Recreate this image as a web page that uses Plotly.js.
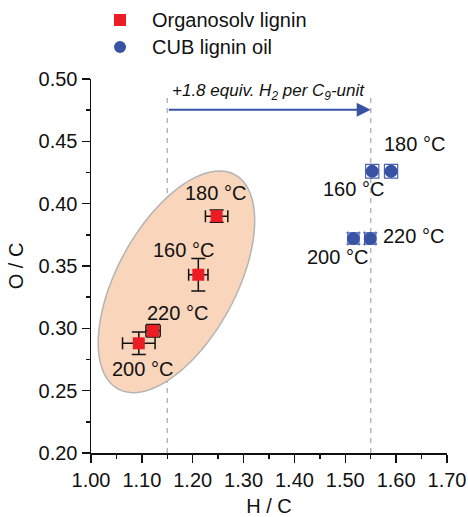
<!DOCTYPE html>
<html>
<head>
<meta charset="utf-8">
<script src="https://cdn.plot.ly/plotly-3.0.1.min.js"></script>
<style>html,body{margin:0;padding:0;background:#fff}#chart{width:468px;height:517px}</style>
</head>
<body>
<div id="chart"></div>
<script>
// ---- data ----
const temperatures = ["160 °C", "180 °C", "200 °C", "220 °C"];
const organosolvHC = [1.211, 1.247, 1.094, 1.122];
const organosolvOC = [0.343, 0.390, 0.288, 0.298];
const organosolvHCerr = [0.019, 0.022, 0.032, 0.014];
const organosolvOCerr = [0.013, 0.005, 0.009, 0.005];
const cubHC = [1.553, 1.590, 1.516, 1.549];
const cubOC = [0.426, 0.426, 0.372, 0.372];
const cubHCerr = [0.013, 0.013, 0.011, 0.011];
const cubOCerr = [0.0055, 0.0055, 0.0045, 0.0045];
const seriesNames = ["Organosolv lignin", "CUB lignin oil"];
const hcStart = 1.15, hcEnd = 1.55;
const arrowText = "<i>+1.8 equiv. H<sub>2</sub> per C<sub>9</sub>-unit</i>";

// label offsets (px) relative to each point
const orgLabelShift = [[-15, 25], [-1, 23], [4, -26], [24, 18]];
const cubLabelShift = [[-19, -18], [23, 27], [-16, -18], [43, 3]];

const FONT = "Arial, 'Liberation Sans', sans-serif";
const RED = "#ec1c24", BLUE = "#3953a4";

const traces = [
  {
    x: organosolvHC, y: organosolvOC, name: seriesNames[0], type: "scatter", mode: "markers",
    marker: {symbol: "square", size: 12, color: RED},
    error_x: {type: "data", array: organosolvHCerr, visible: true, color: "#111", thickness: 1.5, width: 6},
    error_y: {type: "data", array: organosolvOCerr, visible: true, color: "#111", thickness: 1.5, width: 7}
  },
  {
    x: cubHC, y: cubOC, name: seriesNames[1], type: "scatter", mode: "markers",
    marker: {symbol: "circle", size: 13, color: BLUE},
    error_x: {type: "data", array: cubHCerr, visible: true, color: "#4a64b4", thickness: 1.2, width: 7},
    error_y: {type: "data", array: cubOCerr, visible: true, color: "#4a64b4", thickness: 1.2, width: 7}
  }
];

// ellipse path (data coords) from center and conjugate semi-axis vectors
const ell = {cx: 1.168, cy: 0.3373, ux: 0.1145, uy: 0.0860, vx: -0.1028, vy: 0.0225};
let path = "";
for (let i = 0; i <= 120; i++) {
  const t = 2 * Math.PI * i / 120;
  const px = ell.cx + ell.ux * Math.cos(t) + ell.vx * Math.sin(t);
  const py = ell.cy + ell.uy * Math.cos(t) + ell.vy * Math.sin(t);
  path += (i === 0 ? "M" : "L") + px.toFixed(5) + "," + py.toFixed(5);
}
path += "Z";

const shapes = [
  {type: "line", xref: "x", yref: "y", x0: hcStart, x1: hcStart, y0: 0.2, y1: 0.488, layer: "below",
   line: {color: "#b5b5b5", width: 1.5, dash: "5px,5px"}},
  {type: "line", xref: "x", yref: "y", x0: hcEnd, x1: hcEnd, y0: 0.2, y1: 0.488, layer: "below",
   line: {color: "#b5b5b5", width: 1.5, dash: "5px,5px"}},
  {type: "path", xref: "x", yref: "y", path: path, layer: "below",
   fillcolor: "#f9d5bb", line: {color: "#b4b4b4", width: 1.5}},
  // legend symbols
  {type: "rect", xref: "paper", yref: "paper", xsizemode: "pixel", ysizemode: "pixel",
   xanchor: 0.0815, yanchor: 1.1578, x0: -6, x1: 6, y0: -6, y1: 6,
   fillcolor: RED, line: {width: 0}},
  {type: "circle", xref: "paper", yref: "paper", xsizemode: "pixel", ysizemode: "pixel",
   xanchor: 0.0815, yanchor: 1.0856, x0: -6, x1: 6, y0: -6, y1: 6,
   fillcolor: BLUE, line: {width: 0}}
];

const annotations = [];
temperatures.forEach((t, i) => {
  annotations.push({x: organosolvHC[i], y: organosolvOC[i], text: t, showarrow: false,
    xshift: orgLabelShift[i][0], yshift: orgLabelShift[i][1], font: {family: FONT, size: 20, color: "#111"}});
  annotations.push({x: cubHC[i], y: cubOC[i], text: t, showarrow: false,
    xshift: cubLabelShift[i][0], yshift: cubLabelShift[i][1], font: {family: FONT, size: 20, color: "#111"}});
});
annotations.push({x: hcEnd, y: 0.4753, ax: hcStart, ay: 0.4753, axref: "x", ayref: "y", xref: "x", yref: "y",
  text: "", showarrow: true, arrowhead: 2, arrowsize: 1.4, arrowwidth: 2, arrowcolor: BLUE, standoff: 0});
annotations.push({x: (hcStart + hcEnd) / 2 - 0.001, y: 0.4894, xref: "x", yref: "y", text: arrowText, showarrow: false,
  font: {family: FONT, size: 17, color: "#111"}});
// legend labels
annotations.push({x: 0.1657, y: 1.1578, xref: "paper", yref: "paper", xanchor: "left", yanchor: "middle",
  text: seriesNames[0], showarrow: false, font: {family: FONT, size: 20, color: "#111"}});
annotations.push({x: 0.1657, y: 1.0856, xref: "paper", yref: "paper", xanchor: "left", yanchor: "middle",
  text: seriesNames[1], showarrow: false, font: {family: FONT, size: 20, color: "#111"}});

const axisCommon = {
  showgrid: false, zeroline: false, showline: true, linecolor: "#111", linewidth: 1.5,
  ticks: "outside", ticklen: 8, tickwidth: 1.5, tickcolor: "#111", tickformat: ".2f",
  tickfont: {family: FONT, size: 20, color: "#111"}, automargin: false, mirror: false
};

const layout = {
  width: 468, height: 517,
  margin: {l: 91, r: 21, t: 79, b: 64},
  paper_bgcolor: "#fff", plot_bgcolor: "rgba(0,0,0,0)",
  font: {family: FONT, size: 20, color: "#111"},
  showlegend: false,
  xaxis: Object.assign({}, axisCommon, {range: [1.0, 1.7], dtick: 0.1, tick0: 1.0,
    minor: {dtick: 0.05, ticks: "outside", ticklen: 4, tickwidth: 1.5, tickcolor: "#111", showgrid: false},
    title: {text: "H / C", font: {family: FONT, size: 20, color: "#111"}, standoff: 20}}),
  yaxis: Object.assign({}, axisCommon, {range: [0.2, 0.5], dtick: 0.05, tick0: 0.2,
    minor: {dtick: 0.025, ticks: "outside", ticklen: 4, tickwidth: 1.5, tickcolor: "#111", showgrid: false},
    title: {text: "O / C", font: {family: FONT, size: 20, color: "#111"}, standoff: 9}}),
  shapes: shapes,
  annotations: annotations
};

Plotly.newPlot("chart", traces, layout, {displayModeBar: false, staticPlot: true});
</script>
</body>
</html>
